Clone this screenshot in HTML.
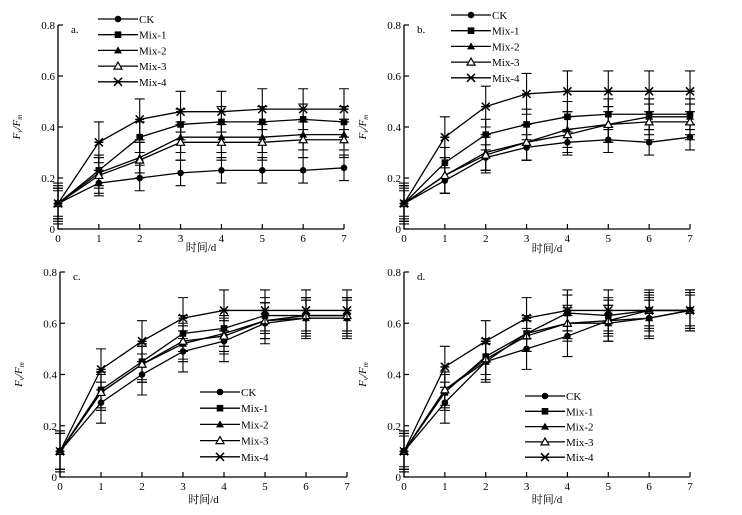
<!DOCTYPE html>
<html><head><meta charset="utf-8">
<style>
html,body{margin:0;padding:0;background:#fff}
svg{display:block}
text{font-family:"Liberation Serif","Noto Serif CJK SC","Noto Sans CJK SC",serif;fill:#000}
</style></head>
<body>
<svg id="fig" width="742" height="515" viewBox="0 0 742 515" xmlns="http://www.w3.org/2000/svg"></svg>
<script>
const days = [0,1,2,3,4,5,6,7];
const seriesNames = ["CK","Mix-1","Mix-2","Mix-3","Mix-4"];
const yTicks = [0,0.2,0.4,0.6,0.8];
const yTickLabels = ["0","0.2","0.4","0.6","0.8"];
const panelLabels = ["a.","b.","c.","d."];

const aCK   = [0.10,0.18,0.20,0.22,0.23,0.23,0.23,0.24];
const aMix1 = [0.10,0.23,0.36,0.41,0.42,0.42,0.43,0.42];
const aMix2 = [0.10,0.22,0.28,0.36,0.36,0.36,0.37,0.37];
const aMix3 = [0.10,0.21,0.27,0.34,0.34,0.34,0.35,0.35];
const aMix4 = [0.10,0.34,0.43,0.46,0.46,0.47,0.47,0.47];
const aErr  = [0.05,0.06,0.06,0.07,0.08];

const bCK   = [0.10,0.19,0.28,0.32,0.34,0.35,0.34,0.36];
const bMix1 = [0.10,0.26,0.37,0.41,0.44,0.45,0.45,0.45];
const bMix2 = [0.10,0.21,0.30,0.34,0.39,0.41,0.44,0.44];
const bMix3 = [0.10,0.21,0.29,0.34,0.37,0.41,0.42,0.42];
const bMix4 = [0.10,0.36,0.48,0.53,0.54,0.54,0.54,0.54];
const bErr  = [0.05,0.06,0.07,0.07,0.08];

const cCK   = [0.10,0.29,0.40,0.49,0.53,0.60,0.62,0.62];
const cMix1 = [0.10,0.34,0.45,0.56,0.58,0.63,0.63,0.63];
const cMix2 = [0.10,0.33,0.44,0.52,0.56,0.61,0.62,0.62];
const cMix3 = [0.10,0.33,0.44,0.53,0.55,0.61,0.63,0.63];
const cMix4 = [0.10,0.42,0.53,0.62,0.65,0.65,0.65,0.65];
const cErr  = [0.08,0.07,0.07,0.07,0.08];

const dCK   = [0.10,0.29,0.45,0.50,0.55,0.61,0.62,0.65];
const dMix1 = [0.10,0.33,0.47,0.56,0.64,0.63,0.65,0.65];
const dMix2 = [0.10,0.34,0.45,0.56,0.60,0.60,0.62,0.65];
const dMix3 = [0.10,0.34,0.46,0.55,0.60,0.61,0.65,0.65];
const dMix4 = [0.10,0.43,0.53,0.62,0.65,0.65,0.65,0.65];
const dErr  = [0.08,0.07,0.07,0.06,0.08];

const panelData = [
  [aCK,aMix1,aMix2,aMix3,aMix4],
  [bCK,bMix1,bMix2,bMix3,bMix4],
  [cCK,cMix1,cMix2,cMix3,cMix4],
  [dCK,dMix1,dMix2,dMix3,dMix4]
];
const panelErr = [aErr,bErr,cErr,dErr];

const layouts = [
  {x0:58,x1:344,yb:229,yt:25,legX:98,legY:19,legDy:15.7,xl:200,xlY:251},
  {x0:404,x1:690,yb:229,yt:25,legX:451,legY:15,legDy:15.7,xl:547,xlY:252},
  {x0:60,x1:347,yb:477,yt:272,legX:200,legY:392,legDy:16.2,xl:203,xlY:503},
  {x0:404,x1:690,yb:477,yt:272,legX:525,legY:396,legDy:15.3,xl:547,xlY:503}
];

const NS="http://www.w3.org/2000/svg";
const svg=document.getElementById('fig');
function mk(tag,attrs,parent){const e=document.createElementNS(NS,tag);for(const k in attrs)e.setAttribute(k,attrs[k]);(parent||svg).appendChild(e);return e;}

function marker(g,kind,x,y){
  let m;
  if(kind===0){m=mk('circle',{cx:x,cy:y,r:3.3,fill:'#000'},g);}
  else if(kind===1){m=mk('rect',{x:x-3.3,y:y-3.3,width:6.6,height:6.6,fill:'#000'},g);}
  else if(kind===2){m=mk('polygon',{points:`${x},${y-4} ${x-4},${y+3} ${x+4},${y+3}`,fill:'#000'},g);}
  else if(kind===3){m=mk('polygon',{points:`${x},${y-4} ${x-4},${y+3} ${x+4},${y+3}`,fill:'#fff',stroke:'#000','stroke-width':1.2},g);}
  else {m=mk('path',{d:`M${x-4},${y-4}L${x+4},${y+4}M${x-4},${y+4}L${x+4},${y-4}M${x-4.5},${y}L${x+4.5},${y}`,stroke:'#000','stroke-width':1.5,fill:'none'},g);}
  
  
}

layouts.forEach((L,pi)=>{
  const g=mk('g',{});
  
  
  const xs=d=>L.x0+(L.x1-L.x0)*d/7;
  const ys=v=>L.yb-(L.yb-L.yt)*v/0.8;
  // axes
  const ax=mk('path',{d:`M${L.x0},${L.yt}V${L.yb}H${L.x1}`,stroke:'#000','stroke-width':1.3,fill:'none'},g);
  
  
  yTicks.forEach((t,i)=>{
    const y=ys(t);
    mk('line',{x1:L.x0,x2:L.x0+5,y1:y,y2:y,stroke:'#000','stroke-width':1.2},g);
    const tx=mk('text',{x:L.x0-3,y:y+4,'font-size':11,'text-anchor':'end'},g);
    tx.textContent=yTickLabels[i];
    
    
  });
  days.forEach(d=>{
    const x=xs(d);
    mk('line',{x1:x,x2:x,y1:L.yb,y2:L.yb-5,stroke:'#000','stroke-width':1.2},g);
    const tx=mk('text',{x:x,y:L.yb+13,'font-size':11,'text-anchor':'middle'},g);
    tx.textContent=String(d);
    
    
  });
  const pl=mk('text',{x:L.x0+13,y:L.yt+8,'font-size':11},g);
  pl.textContent=panelLabels[pi];
  
  
  const xl=mk('text',{x:(L.x0+L.x1)/2,y:L.xlY,'font-size':11,'text-anchor':'middle'},g);
  xl.textContent='时间/d';
  
  
  const cy=(L.yt+L.yb)/2;
  const yl=mk('text',{x:L.x0-38,y:cy,'font-size':11,'font-style':'italic','text-anchor':'middle',transform:`rotate(-90 ${L.x0-38} ${cy})`},g);
  yl.innerHTML='F<tspan font-size="7" dy="2">v</tspan><tspan dy="-2">/F</tspan><tspan font-size="7" dy="2">m</tspan>';
  
  
  // series
  panelData[pi].forEach((vals,si)=>{
    const sg=mk('g',{},g);
    
    
    const e=panelErr[pi][si];
    vals.forEach((v,i)=>{
      const x=xs(days[i]);
      const eb=mk('path',{d:`M${x},${ys(v+e)}V${ys(Math.max(v-e,0))}M${x-5},${ys(v+e)}H${x+5}M${x-5},${ys(Math.max(v-e,0))}H${x+5}`,stroke:'#000','stroke-width':1.1,fill:'none'},sg);
      
      
    });
    const ln=mk('polyline',{points:vals.map((v,i)=>xs(days[i])+','+ys(v)).join(' '),stroke:'#000','stroke-width':1.3,fill:'none'},sg);
    
    
    vals.forEach((v,i)=>marker(sg,si,xs(days[i]),ys(v)));
  });
  // legend
  const lg=mk('g',{},g);
  
  
  seriesNames.forEach((n,si)=>{
    const y=L.legY+si*L.legDy;
    const le=mk('g',{},lg);
    
    
    mk('line',{x1:L.legX,x2:L.legX+40,y1:y,y2:y,stroke:'#000','stroke-width':1.3},le);
    marker(le,si,L.legX+20,y);
    const t=mk('text',{x:L.legX+41,y:y+4,'font-size':11},le);
    t.textContent=n;
  });
});
</script>
</body></html>
